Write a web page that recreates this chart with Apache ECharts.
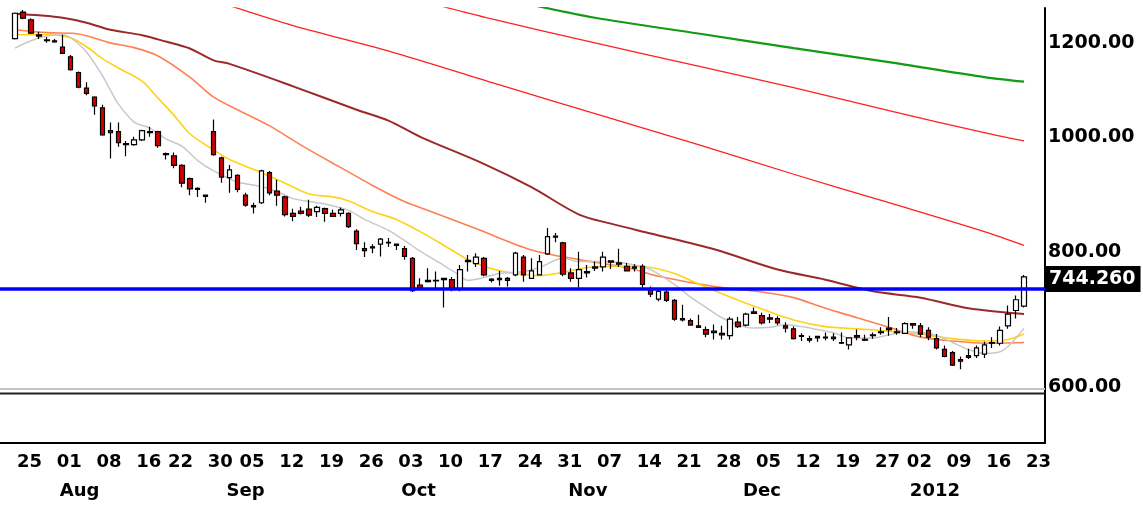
<!DOCTYPE html>
<html><head><meta charset="utf-8">
<script src="https://cdn.jsdelivr.net/npm/echarts@6/dist/echarts.min.js"></script>
<style>html,body{margin:0;padding:0;background:#fff}#c{width:1143px;height:508px}</style>
</head><body><div id="c"></div>
<script>
// Trading days (categories)
const dates = [
 '2011-07-25','2011-07-26','2011-07-27','2011-07-28','2011-07-29',
 '2011-08-01','2011-08-02','2011-08-03','2011-08-04','2011-08-05','2011-08-08','2011-08-09','2011-08-10','2011-08-11','2011-08-12',
 '2011-08-16','2011-08-17','2011-08-18','2011-08-19','2011-08-22','2011-08-23','2011-08-24','2011-08-25','2011-08-26','2011-08-30','2011-08-31',
 '2011-09-01','2011-09-02','2011-09-05','2011-09-06','2011-09-07','2011-09-08','2011-09-09','2011-09-12','2011-09-13','2011-09-14','2011-09-15','2011-09-16',
 '2011-09-19','2011-09-20','2011-09-21','2011-09-22','2011-09-23','2011-09-26','2011-09-27','2011-09-28','2011-09-29','2011-09-30',
 '2011-10-03','2011-10-04','2011-10-05','2011-10-06','2011-10-07','2011-10-10','2011-10-11','2011-10-12','2011-10-13','2011-10-14',
 '2011-10-17','2011-10-18','2011-10-19','2011-10-20','2011-10-21','2011-10-24','2011-10-25','2011-10-26','2011-10-27','2011-10-28','2011-10-31',
 '2011-11-01','2011-11-02','2011-11-03','2011-11-04','2011-11-07','2011-11-08','2011-11-09','2011-11-10','2011-11-11','2011-11-14','2011-11-15','2011-11-16','2011-11-17','2011-11-18',
 '2011-11-21','2011-11-22','2011-11-23','2011-11-24','2011-11-25','2011-11-28','2011-11-29','2011-11-30',
 '2011-12-01','2011-12-02','2011-12-05','2011-12-06','2011-12-07','2011-12-08','2011-12-09','2011-12-12','2011-12-13','2011-12-14','2011-12-15','2011-12-16',
 '2011-12-19','2011-12-20','2011-12-21','2011-12-22','2011-12-23','2011-12-27','2011-12-28','2011-12-29','2011-12-30',
 '2012-01-02','2012-01-03','2012-01-04','2012-01-05','2012-01-06','2012-01-09','2012-01-10','2012-01-11','2012-01-12','2012-01-13',
 '2012-01-16','2012-01-17','2012-01-18','2012-01-19','2012-01-20','2012-01-23'
];
const openV = [1210,1274,1255,1219,1207,1205,1190,1168,1133,1099,1080,1058,1012,1010,987,985,994,1010,1010,968,964,946,922,905,893,
 1010,960,924,928,893,875,880,933,900,890,862,866,869,865,870,862,862,862,833,805,808,812,815,812,805,
 790,750,757,757,760,758,744,787,782,790,759,760,760,765,792,760,765,797,825,814,768,760,770,777,777,
 786,783,778,777,778,745,730,740,728,703,700,693,688,686,683,680,698,694,712,707,704,703,693,689,680,
 676,679,678,678,671,668,680,675,681,685,690,685,683,696,693,687,676,662,658,649,654,654,656,671,670,693,714,720];
const closeV = [1271,1259,1223,1216,1205,1202,1176,1139,1101,1088,1062,1004,1008,989,985,994,1012,1008,983,966,946,914,904,903,891,
 966,925,938,903,876,873,936,897,893,860,857,862,859,872,862,857,868,840,813,802,806,820,814,810,793,
 742,746,755,756,758,744,773,785,792,765,757,758,757,798,765,771,785,824,823,766,760,773,768,775,792,
 784,781,771,775,751,737,741,728,702,701,694,691,682,684,681,702,692,709,710,697,702,697,690,676,679,
 674,677,677,676,670,677,678,674,680,684,688,684,696,694,682,678,664,653,642,647,652,664,668,670,687,709,729,762];
const lowV = [1208,1256,1221,1209,1200,1200,1175,1137,1099,1084,1044,1002,959,981,963,983,992,1000,979,957,941,907,893,890,880,
 964,915,897,898,873,862,878,893,875,857,849,860,856,856,848,856,857,838,803,792,798,793,808,803,788,
 740,745,754,746,718,741,741,770,777,763,754,749,748,763,755,759,764,795,815,763,755,747,761,771,770,
 774,777,770,770,746,733,727,726,700,699,693,690,678,675,675,675,690,692,709,695,697,694,684,675,673,
 671,672,674,673,669,662,674,673,676,681,680,681,682,689,678,674,662,652,641,637,650,651,651,664,667,689,703,718];
const highV = [1273,1279,1259,1226,1214,1209,1219,1172,1135,1112,1082,1064,1028,1028,992,1000,1014,1020,1012,970,970,948,924,907,893,
 1034,962,947,930,897,880,938,936,920,892,870,873,885,875,872,868,872,864,836,815,812,822,822,813,809,
 792,760,775,770,760,762,780,795,798,792,760,771,762,800,795,790,795,838,830,816,775,800,780,785,800,
 787,805,783,781,781,748,745,743,730,722,703,708,692,695,693,705,705,711,718,711,709,706,698,692,683,
 680,680,684,683,684,678,688,681,684,691,705,690,698,697,697,691,682,667,660,653,663,667,672,678,692,721,735,765];

// Moving averages: [tradingDayIndex, value]
const maGray = [[0,1188],[2,1205],[4,1216],[6,1219],[7,1212],[9,1179],[11,1126],[12,1095],[13,1066],[15,1029],[17,1017],[19,996],[21,982],[23,955],[25,936],
 [28,916],[31,908],[33,899],[35,887],[37,882],[39,878],[42,867],[44,852],[47,834],[49,818],[51,801],[54,779],[56,764],[57,757],[59,761],[61,767],[64,770],
 [66,776],[69,790],[71,785],[74,785],[78,780],[80,773],[83,751],[85,733],[87,718],[89,704],[91,694],[93,690],[95,691],[97,695],[99,692],[101,688],[103,684],
 [105,677],[108,677],[110,681],[112,685],[114,684],[116,680],[118,671],[120,662],[122,657],[124,659],[125,666],[126,677],[127,690]];
const maYellow = [[0,1219],[4,1219],[7,1212],[9,1191],[11,1164],[13,1143],[16,1114],[18,1078],[20,1043],[22,1006],[25,975],[27,957],[30,939],[34,914],
 [37,895],[40,890],[42,883],[45,865],[48,852],[51,832],[54,810],[57,788],[59,778],[62,769],[66,764],[69,769],[72,776],[76,778],[80,776],[83,767],[86,752],
 [90,733],[94,716],[98,701],[102,692],[106,689],[110,686],[114,682],[118,676],[122,673],[125,675],[127,682]];
const maOrange = [[0,1231],[4,1224],[8,1221],[12,1200],[15,1189],[18,1170],[22,1123],[25,1080],[28,1054],[32,1022],[36,984],[41,942],[45,910],[49,882],
 [52,867],[58,837],[65,803],[71,788],[77,776],[81,763],[88,748],[94,740],[98,732],[102,717],[106,704],[110,691],[114,678],[118,673],[122,670],[127,671]];
const maBrown = [[0,1270],[3,1266],[6,1260],[9,1248],[12,1231],[16,1218],[19,1203],[22,1187],[25,1160],[27,1152],[35,1103],[43,1054],[47,1032],[51,1000],
 [59,949],[65,907],[71,860],[75,845],[80,829],[88,804],[96,773],[102,758],[108,741],[114,732],[120,717],[127,709]];
const maRedLow = [[27,1290],[35,1241],[48,1176],[61,1106],[73,1046],[86,985],[98,930],[110,880],[122,832],[127,810]];
const maRedHigh = [[53,1292],[60,1257],[73,1200],[86,1147],[98,1100],[110,1052],[122,1008],[127,992]];
const maGreen = [[65,1292],[73,1260],[86,1222],[98,1188],[110,1156],[122,1123],[127,1113]];

const lastPrice = 744.26;
const yTickValues = [600, 800, 1000, 1200];
const weekTickIdx = [0,5,10,15,19,24,28,33,38,43,48,53,58,63,68,73,78,83,88,93,98,103,108,112,117,122,127];
const weekTickLabels = ['25','01','08','16','22','30','05','12','19','26','03','10','17','24','31','07','14','21','28','05','12','19','27','02','09','16','23'];
const monthTickIdx = [5,26,48,69,91,112];
const monthTickLabels = ['Aug','Sep','Oct','Nov','Dec','2012'];

const candles = dates.map((d, i) => [i, openV[i], closeV[i], lowV[i], highV[i]]);

const FONT = 'DejaVu Sans';
const XMIN = -1.89, XMAX = 129.64;

function lineSeries(data, color, width) {
  return { type: 'line', xAxisIndex: 0, yAxisIndex: 0, data: data, showSymbol: false, symbol: 'none',
    smooth: 0.3, clip: true, z: 2, silent: true,
    lineStyle: { color: color, width: width } };
}

const chart = echarts.init(document.getElementById('c'), null, { renderer: 'canvas' });
chart.setOption({
  animation: false,
  backgroundColor: '#ffffff',
  textStyle: { fontFamily: FONT },
  grid: [
    { left: 0, top: 8, width: 1045, height: 393, outerBoundsMode: 'none', containLabel: false },
    { left: 0, top: 401, width: 1045, height: 42, outerBoundsMode: 'none', containLabel: false }
  ],
  xAxis: [
    { gridIndex: 0, type: 'value', min: XMIN, max: XMAX, show: false, splitLine: { show: false } },
    { gridIndex: 1, type: 'value', min: XMIN, max: XMAX, position: 'bottom',
      axisLine: { show: true, onZero: false, lineStyle: { color: '#000', width: 2 } },
      axisTick: { show: false }, splitLine: { show: false },
      axisLabel: { customValues: weekTickIdx, hideOverlap: false, align: 'left', margin: 10, padding: [0, 0, 0, 2],
        color: '#000', fontFamily: FONT, fontWeight: 'bold', fontSize: 18,
        formatter: v => weekTickLabels[weekTickIdx.indexOf(Math.round(v))] } },
    { gridIndex: 1, type: 'value', min: XMIN, max: XMAX, position: 'bottom', offset: 29,
      axisLine: { show: false, onZero: false }, axisTick: { show: false }, splitLine: { show: false },
      axisLabel: { customValues: monthTickIdx, hideOverlap: false, align: 'left', margin: 10, padding: [0, 0, 0, 5],
        color: '#000', fontFamily: FONT, fontWeight: 'bold', fontSize: 18,
        formatter: v => monthTickLabels[monthTickIdx.indexOf(Math.round(v))] } }
  ],
  yAxis: [
    { gridIndex: 0, type: 'log', logBase: 10, min: 599, max: 1284, position: 'right',
      axisLine: { show: true, onZero: false, lineStyle: { color: '#000', width: 2 } },
      axisTick: { show: false }, splitLine: { show: false }, minorTick: { show: false },
      axisLabel: { customValues: yTickValues, hideOverlap: false, margin: 3, align: 'left',
        color: '#000', fontFamily: FONT, fontWeight: 'bold', fontSize: 19,
        formatter: v => Math.round(v) === 600 ? '{low|600.00}' : Number(v).toFixed(2),
        rich: { low: { padding: [0, 0, 27, 0], color: '#000', fontFamily: FONT, fontWeight: 'bold', fontSize: 19 } } } },
    { gridIndex: 1, type: 'value', min: 0, max: 1, position: 'right',
      axisLine: { show: true, onZero: false, lineStyle: { color: '#000', width: 2 } },
      axisTick: { show: false }, axisLabel: { show: false }, splitLine: { show: false } }
  ],
  graphic: [
    { type: 'line', shape: { x1: 0, y1: 389, x2: 1045, y2: 389 }, style: { stroke: '#c4c4c4', lineWidth: 2 }, z: 1 },
    { type: 'line', shape: { x1: 0, y1: 393.5, x2: 1045, y2: 393.5 }, style: { stroke: '#222', lineWidth: 2 }, z: 1 }
  ],
  series: [
    lineSeries(maGreen, '#159a15', 2.2),
    lineSeries(maRedHigh, '#ff2020', 1.3),
    lineSeries(maRedLow, '#ff2020', 1.3),
    lineSeries(maBrown, '#9a2a2a', 2),
    lineSeries(maOrange, '#ff8050', 1.6),
    lineSeries(maYellow, '#ffd21a', 1.6),
    lineSeries(maGray, '#c8c8c8', 1.5),
    { type: 'candlestick', xAxisIndex: 0, yAxisIndex: 0, data: candles, encode: { x: 0, y: [1, 2, 3, 4] },
      barWidth: 5, z: 3, clip: true, silent: true,
      itemStyle: { color: '#ffffff', color0: '#d00000', borderColor: '#000', borderColor0: '#000', borderWidth: 1.2 },
      markLine: { silent: true, symbol: 'none', animation: false,
        lineStyle: { color: '#0000ff', width: 3.5, type: 'solid' },
        label: { show: true, position: 'end', distance: 0, offset: [0, -10], formatter: lastPrice.toFixed(3),
          backgroundColor: '#000', color: '#fff', fontFamily: FONT, fontWeight: 'bold', fontSize: 19, padding: [4, 5, 3, 4] },
        data: [{ yAxis: lastPrice }] } }
  ]
});
</script>
</body></html>
